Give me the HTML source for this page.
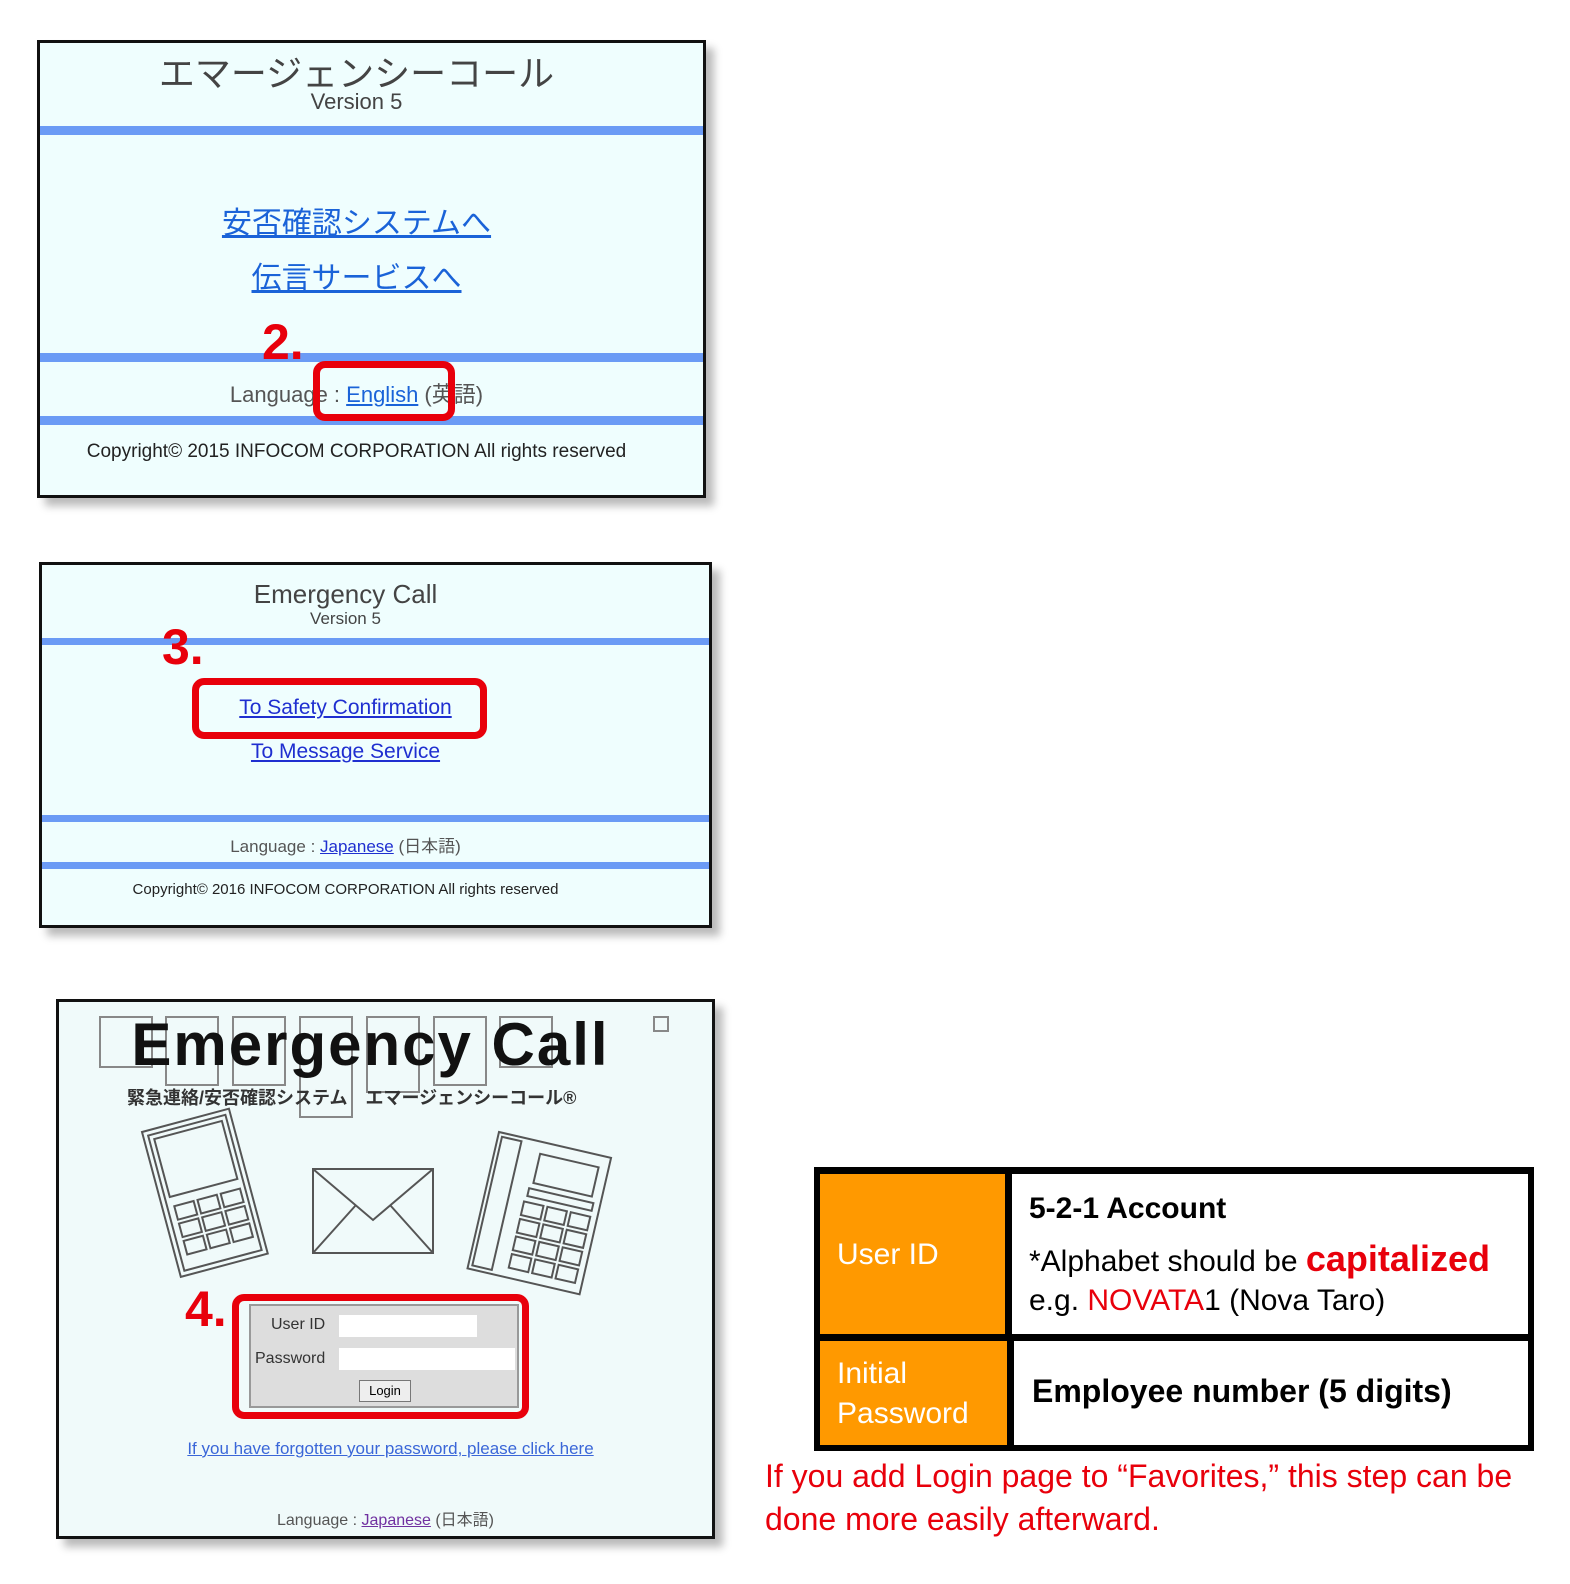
<!DOCTYPE html>
<html><head><meta charset="utf-8"><style>
body{margin:0;width:1570px;height:1584px;background:#fff;position:relative;overflow:hidden;font-family:"Liberation Sans","Noto Sans CJK JP",sans-serif}
.a{position:absolute}
.panel{position:absolute;border:3px solid #111;box-shadow:8px 8px 8px #bbb;box-sizing:border-box}
.bar{position:absolute;left:0;right:0;background:#6b9bf5}
.c{position:absolute;left:0;right:0;text-align:center;white-space:nowrap}
.lnk{color:#1a63d8;text-decoration:underline}
.red{position:absolute;border:7px solid #e8000b;border-radius:12px;box-sizing:border-box}
.num{position:absolute;color:#e8000b;font-weight:bold;font-size:50px;font-family:"Liberation Sans Narrow","Liberation Sans",sans-serif}
.cal{font-family:"Liberation Sans Narrow","Liberation Sans",sans-serif}
</style></head><body>

<!-- Panel 1 -->
<div class="panel" style="left:37px;top:40px;width:669px;height:458px;background:#effefe">
  <div class="c" style="top:2px;right:30px;font-size:36px;color:#444">エマージェンシーコール</div>
  <div class="c" style="top:46px;right:30px;font-size:22px;color:#444">Version 5</div>
  <div class="bar" style="top:83px;height:9px"></div>
  <div class="c" style="top:155px;right:30px;font-size:30px"><span class="lnk">安否確認システムへ</span></div>
  <div class="c" style="top:210px;right:30px;font-size:30px"><span class="lnk">伝言サービスへ</span></div>
  <div class="bar" style="top:310px;height:9px"></div>
  <div class="c" style="top:334px;right:30px;font-size:22px;color:#555">Language : <span class="lnk">English</span> (英語)</div>
  <div class="bar" style="top:373px;height:9px"></div>
  <div class="c" style="top:398px;right:30px;font-size:19px;color:#222">Copyright© 2015 INFOCOM CORPORATION All rights reserved</div>
</div>
<div class="num" style="left:262px;top:313px">2.</div>
<div class="red" style="left:313px;top:361px;width:142px;height:60px"></div>

<!-- Panel 2 -->
<div class="panel" style="left:39px;top:562px;width:673px;height:366px;background:#effefe">
  <div class="c" style="top:14px;right:60px;font-size:26px;color:#444">Emergency Call</div>
  <div class="c" style="top:44px;right:60px;font-size:17px;color:#444">Version 5</div>
  <div class="bar" style="top:73px;height:7px"></div>
  <div class="c" style="top:131px;right:60px;font-size:21px"><span class="lnk" style="color:#1f2fd0">To Safety Confirmation</span></div>
  <div class="c" style="top:175px;right:60px;font-size:21px"><span class="lnk" style="color:#1f2fd0">To Message Service</span></div>
  <div class="bar" style="top:250px;height:7px"></div>
  <div class="c" style="top:267px;right:60px;font-size:17px;color:#555">Language : <span class="lnk" style="color:#1f2fd0">Japanese</span> (日本語)</div>
  <div class="bar" style="top:297px;height:7px"></div>
  <div class="c" style="top:316px;right:60px;font-size:15px;color:#222">Copyright© 2016 INFOCOM CORPORATION All rights reserved</div>
</div>
<div class="num" style="left:162px;top:618px">3.</div>
<div class="red" style="left:192px;top:678px;width:295px;height:61px"></div>

<!-- Panel 3 -->
<div class="panel" style="left:56px;top:999px;width:659px;height:540px;background:#f0fafa">
  <svg class="a" style="left:0;top:0" width="655" height="536">
    <g fill="none" stroke="#888" stroke-width="2">
      <rect x="41" y="15" width="52" height="50"/><rect x="107" y="15" width="52" height="68"/>
      <rect x="174" y="15" width="52" height="68"/><rect x="241" y="15" width="52" height="100"/>
      <rect x="308" y="15" width="52" height="75"/><rect x="375" y="15" width="52" height="68"/>
      <rect x="441" y="15" width="52" height="50"/><rect x="595" y="15" width="14" height="14"/>
    </g>
    <g fill="none" stroke="#555" stroke-width="2">
      <g transform="translate(83,130) rotate(-15)">
        <rect x="0" y="0" width="90" height="150"/><rect x="5" y="5" width="80" height="140"/>
        <rect x="10" y="10" width="70" height="60"/>
        <g><rect x="12" y="80" width="20" height="14"/><rect x="36" y="80" width="20" height="14"/><rect x="60" y="80" width="20" height="14"/>
        <rect x="12" y="98" width="20" height="14"/><rect x="36" y="98" width="20" height="14"/><rect x="60" y="98" width="20" height="14"/>
        <rect x="12" y="116" width="20" height="14"/><rect x="36" y="116" width="20" height="14"/><rect x="60" y="116" width="20" height="14"/></g>
      </g>
      <rect x="254" y="167" width="120" height="84"/>
      <polyline points="254,167 314,218 374,167"/><line x1="254" y1="251" x2="297" y2="203"/><line x1="374" y1="251" x2="331" y2="203"/>
      <g transform="translate(440,130) rotate(13)">
        <rect x="0" y="0" width="115" height="140"/><rect x="4" y="4" width="20" height="132"/>
        <rect x="45" y="12" width="60" height="30"/>
        <rect x="42" y="48" width="66" height="8"/>
        <rect x="40" y="62" width="20" height="14"/><rect x="64" y="62" width="20" height="14"/><rect x="88" y="62" width="20" height="14"/>
        <rect x="40" y="80" width="20" height="14"/><rect x="64" y="80" width="20" height="14"/><rect x="88" y="80" width="20" height="14"/>
        <rect x="40" y="98" width="20" height="14"/><rect x="64" y="98" width="20" height="14"/><rect x="88" y="98" width="20" height="14"/>
        <rect x="40" y="116" width="20" height="14"/><rect x="64" y="116" width="20" height="14"/><rect x="88" y="116" width="20" height="14"/>
      </g>
    </g>
  </svg>
  <div class="c" style="top:8px;right:30px;font-size:60px;font-weight:bold;color:#111;letter-spacing:2px">Emergency Call</div>
  <div class="a" style="left:68px;top:82px;font-size:18px;font-weight:bold;color:#333;white-space:nowrap">緊急連絡/安否確認システム　エマージェンシーコール®</div>
  <div class="a" style="left:190px;top:302px;width:270px;height:104px;background:#ddd;border:2px solid #999;box-sizing:border-box"></div>
  <div class="a" style="left:212px;top:314px;font-size:16px;color:#333">User ID</div>
  <div class="a" style="left:280px;top:313px;width:138px;height:22px;background:#fff"></div>
  <div class="a" style="left:196px;top:348px;font-size:16px;color:#333">Password</div>
  <div class="a" style="left:280px;top:346px;width:176px;height:22px;background:#fff"></div>
  <div class="a" style="left:300px;top:378px;width:50px;height:20px;border:1px solid #777;background:#eee;font-size:13px;text-align:center;line-height:20px">Login</div>
  <div class="c" style="top:437px;right:-10px;font-size:17px"><span class="lnk" style="color:#3a66d8">If you have forgotten your password, please click here</span></div>
  <div class="c" style="top:504px;font-size:16px;color:#555">Language : <span class="lnk" style="color:#7030a0">Japanese</span> (日本語)</div>
</div>
<div class="num" style="left:185px;top:1280px">4.</div>
<div class="red" style="left:232px;top:1294px;width:297px;height:125px"></div>

<!-- Table -->
<div class="a" style="left:814px;top:1167px;width:720px;height:284px;background:#000"></div>
<div class="a cal" style="left:820px;top:1174px;width:185px;height:160px;background:#ff9900;color:#fff;font-size:30px"><div style="position:absolute;left:17px;top:64px">User ID</div></div>
<div class="a cal" style="left:1012px;top:1174px;width:516px;height:160px;background:#fff;font-size:30px;white-space:nowrap">
  <div class="a" style="left:17px;top:18px;font-weight:bold">5-2-1 Account</div>
  <div class="a" style="left:17px;top:64px">*Alphabet should be <b style="color:#e8000b;font-size:36px">capitalized</b></div>
  <div class="a" style="left:17px;top:110px">e.g. <span style="color:#e8000b">NOVATA</span>1 (Nova Taro)</div>
</div>
<div class="a cal" style="left:820px;top:1341px;width:187px;height:104px;background:#ff9900;color:#fff;font-size:30px;line-height:40px"><div style="position:absolute;left:17px;top:13px">Initial<br>Password</div></div>
<div class="a cal" style="left:1014px;top:1341px;width:514px;height:104px;background:#fff;font-size:32px;font-weight:bold;white-space:nowrap"><div class="a" style="left:18px;top:32px">Employee number (5 digits)</div></div>

<div class="a cal" style="left:765px;top:1455px;font-size:32px;color:#e8000b;line-height:43px;white-space:nowrap">If you add Login page to “Favorites,” this step can be<br>done more easily afterward.</div>
</body></html>
